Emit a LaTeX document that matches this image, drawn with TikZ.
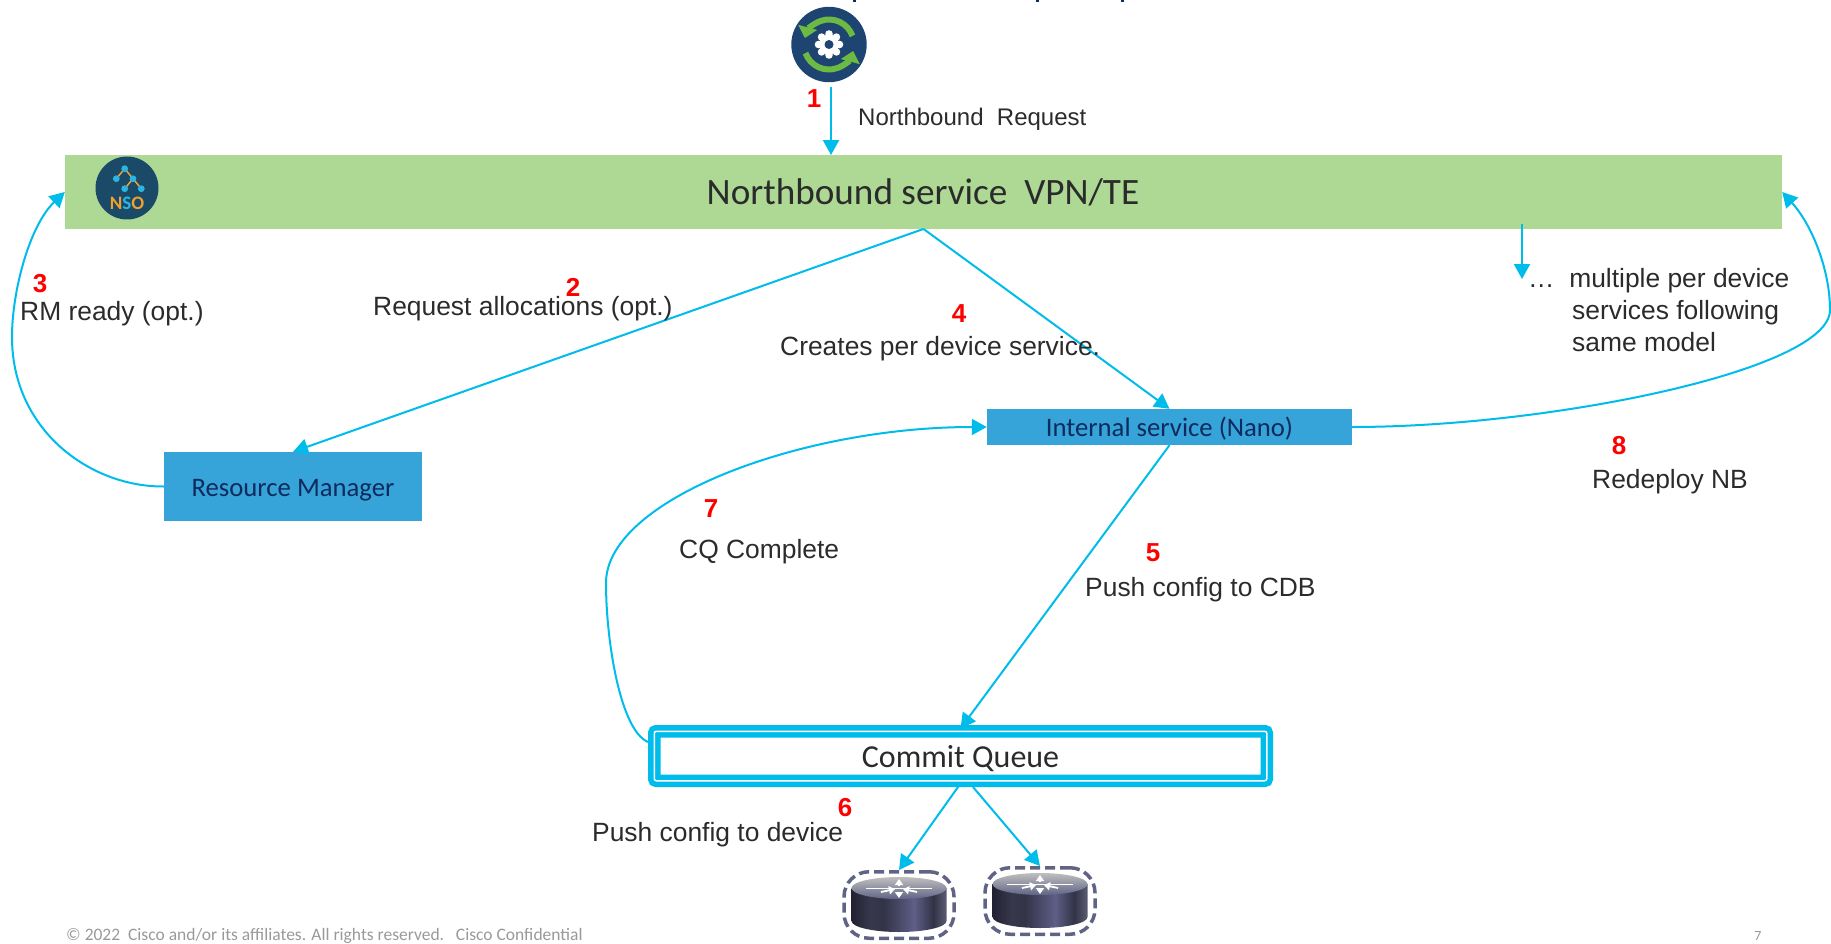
\documentclass[tikz,border=0pt]{standalone}
\usepackage{fontspec}
\setmainfont{Liberation Sans}
\newfontfamily\carlito{Carlito}
\usetikzlibrary{arrows.meta}

\definecolor{flowblue}{HTML}{00BCEB}
\definecolor{barfill}{HTML}{ADD995}
\definecolor{boxfill}{HTML}{36A3D9}
\definecolor{boxtext}{HTML}{0F2A5C}
\definecolor{plaintext}{HTML}{2B2B2B}
\definecolor{gearblue}{HTML}{1E4472}
\definecolor{geargreen}{HTML}{6CB944}
\definecolor{nsoblue}{HTML}{1A4A68}
\definecolor{nsocyan}{HTML}{2BB5E0}
\definecolor{nsoorange}{HTML}{F0A030}
\definecolor{routeredge}{HTML}{5F6485}

\pgfdeclarehorizontalshading{routerbody}{100bp}{rgb(0bp)=(.13,.13,.2); rgb(25bp)=(.13,.13,.2); rgb(35bp)=(.22,.22,.3); rgb(42bp)=(.2,.2,.28); rgb(58bp)=(.37,.37,.53); rgb(68bp)=(.2,.2,.28); rgb(75bp)=(.36,.36,.45); rgb(100bp)=(.36,.36,.45)}

\tikzset{
  flow/.style={draw=flowblue, line width=2pt, -{Triangle[length=15pt,width=16pt]}},
  txt/.style={font=\fontsize{26.4}{32}\selectfont, text=plaintext, inner sep=0, anchor=base west},
  stepnum/.style={font=\fontsize{26}{30}\selectfont\bfseries, text=red, inner sep=0, anchor=base},
  bluebox/.style={fill=boxfill, inner sep=0, text=boxtext, font=\carlito\fontsize{26.7}{31}\selectfont},
  routerbox/.style={draw=routeredge, line width=3.5pt, dash pattern=on 10pt off 5pt, rounded corners=25pt, minimum width=110pt, minimum height=66.5pt, inner sep=0},
  routerdisc/.pic={
    \shade[shading=routerbody] (-47.5,19) -- (-47.5,-14) arc[x radius=47.5, y radius=11, start angle=180, end angle=360] -- (47.5,19) -- cycle;
    \shade[top color=black!25, bottom color=routeredge] (0,19) ellipse[x radius=47.5, y radius=11];
    \draw[white, line width=1pt] (-33,19) -- (33,19);
    \draw[white, line width=1.8pt, -{Triangle[length=6pt,width=8pt]}] (-18,15) -- (-4,18);
    \draw[white, line width=1.8pt, -{Triangle[length=6pt,width=8pt]}] (18,15) -- (4,18);
    \draw[white, line width=1.8pt, -{Triangle[length=6pt,width=8pt]}] (0,21) -- (0,28);
    \draw[white, line width=1.8pt, -{Triangle[length=6pt,width=8pt]}] (0,15) -- (0,9);
  }
}

\begin{document}
\begin{tikzpicture}[x=1pt, y=-1pt]
  \useasboundingbox (0,0) rectangle (1831,944);

  \foreach \tickx in {853,1036,1121}
    \fill[boxtext] (\tickx,0) rectangle ++(3,2.5);

  \node[fill=barfill, minimum width=1717pt, minimum height=73.5pt, inner sep=0] (bar) at (923.5,192) {};
  \node[font=\carlito\fontsize{37.2}{44}\selectfont, text=plaintext, inner sep=0] (bartext) at (923,192) {Northbound service\ \ VPN/TE};
  \node[bluebox, minimum width=258pt, minimum height=69pt] (rm) at (293,486.5) {\raisebox{-9.5pt}[0pt][0pt]{Resource Manager}};
  \node[bluebox, minimum width=365pt, minimum height=36pt] (nano) at (1169.5,427) {\raisebox{-9pt}[0pt][0pt]{Internal service (Nano)}};
  \node[draw=flowblue, line width=5.5pt, double=white, double distance=1.5pt, rounded corners=2pt, fill=white, minimum width=612.5pt, minimum height=49.5pt, inner sep=0, text=plaintext, font=\carlito\fontsize{32}{38}\selectfont] (cq) at (960.5,756) {\raisebox{-11pt}[0pt][0pt]{Commit Queue}};

  \begin{scope}[shift={(829,44.5)}, y=1pt]
    \fill[gearblue] (0,0) circle (37.7);
    \draw[geargreen, line width=6pt, -{Triangle[length=11pt,width=19pt]}] (20:25) arc[radius=25, start angle=20, end angle=165];
    \draw[geargreen, line width=6pt, -{Triangle[length=11pt,width=19pt]}] (200:25) arc[radius=25, start angle=200, end angle=345];
    \foreach \ang in {0,45,...,315}
      \fill[white] (\ang:10.5) circle (3.8);
    \fill[white] (0,0) circle (10);
    \fill[gearblue] (0,0) circle (4.5);
  \end{scope}

  \begin{scope}[shift={(127,188)}, y=1pt]
    \fill[nsoblue] (0,0) circle (31.5);
    \draw[nsoorange, line width=1.5pt] (-10.7,9.3) -- (-2.3,19.3) -- (6,9.3) -- (-2.3,-.7) (6,9.3) -- (14.3,-.7);
    \foreach \dotx/\doty in {-2.3/19.3,-10.7/9.3,6/9.3,-2.3/-.7,14.3/-.7}
      \fill[nsocyan] (\dotx,\doty) circle (3.4);
    \node[font=\carlito\bfseries\fontsize{19}{22}\selectfont, inner sep=0] (nsotext) at (0,-15) {\textcolor{nsoorange}{N}\textcolor{nsocyan}{S}\textcolor{nsoorange}{O}};
  \end{scope}

  \node[routerbox] (rtr1) at (899,905) {};
  \node[routerbox] (rtr2) at (1040,901) {};
  \begin{scope}[y=1pt]
    \pic at (899,-907) {routerdisc};
    \pic at (1040,-903) {routerdisc};
  \end{scope}

  \coordinate (req) at (831,87);
  \coordinate (more) at (1522,224);
  \coordinate (moretip) at (1522,279);
  \coordinate (cqout) at (648,742);
  \coordinate (cqright) at (973,787);
  \coordinate (rmbend) at (12,337);
  \coordinate (nanobend) at (1830,310);
  \coordinate (cqbend) at (606,583);

  \draw[flow] (req) -- (req |- bar.north);
  \draw[flow] (more) -- (moretip);
  \draw[flow] (bar.south) -- (rm.north);
  \draw[flow] (bar.south) -- (nano.north);
  \draw[flow] (nano.south) -- (cq.north);
  \draw[flow] (cq.south) -- (rtr1.north);
  \draw[flow] (cqright) -- (rtr2.north);
  \draw[flow] (rm.west) .. controls (90,487) and (12,430) .. (rmbend) .. controls (12,290) and (30,225) .. (bar.west);
  \draw[flow] (nano.east) .. controls (1550,427) and (1830,370) .. (nanobend) .. controls (1830,270) and (1812,225) .. (bar.east);
  \draw[flow] (cqout) .. controls (620,730) and (606,640) .. (cqbend) .. controls (606,500) and (800,427) .. (nano.west);

  \node[txt, font=\fontsize{24}{30}\selectfont] (reqtext) at (858,126) {Northbound\ \ Request};
  \node[txt] (allocs) at (373,315) {Request allocations (opt.)};
  \node[txt] (ready) at (20,320) {RM ready (opt.)};
  \node[txt] (creates) at (780,355) {Creates per device service.};
  \node[txt, anchor=north west, align=left] (multi) at (1528,268) {…\ \ multiple per device\\\hspace{44pt}services following\\\hspace{44pt}same model};
  \node[txt] (redeploy) at (1592,488) {Redeploy NB};
  \node[txt] (cqdone) at (679,558) {CQ Complete};
  \node[txt] (pushcdb) at (1085,596) {Push config to CDB};
  \node[txt] (pushdev) at (592,841) {Push config to device};

  \node[stepnum] (n1) at (814,108) {1};
  \node[stepnum] (n2) at (573,296) {2};
  \node[stepnum] (n3) at (40,292) {3};
  \node[stepnum] (n4) at (959,322) {4};
  \node[stepnum] (n5) at (1153,561) {5};
  \node[stepnum] (n6) at (845,816) {6};
  \node[stepnum] (n7) at (711,517) {7};
  \node[stepnum] (n8) at (1619,454) {8};

  \node[font=\carlito\fontsize{17.5}{20}\selectfont, text=black!40, inner sep=0, anchor=base west] (footer) at (66,940) {© 2022\ \ Cisco and/or its affiliates. All rights reserved.\ \ \ Cisco Confidential};
  \node[font=\carlito\fontsize{14}{18}\selectfont, text=black!40, inner sep=0, anchor=base] (pageno) at (1758,940) {7};
\end{tikzpicture}
\end{document}
